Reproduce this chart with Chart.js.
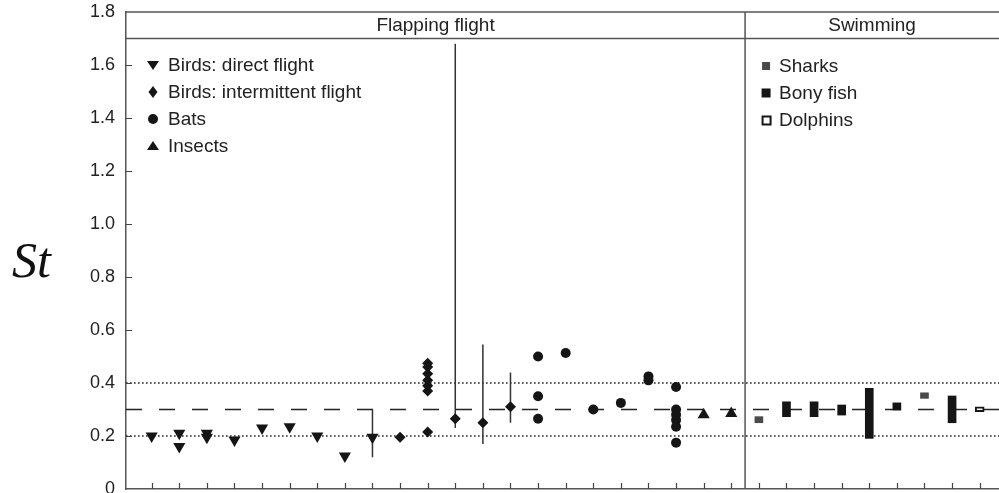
<!DOCTYPE html>
<html>
<head>
<meta charset="utf-8">
<script src="https://cdn.jsdelivr.net/npm/chart.js@4"></script>
<style>
  html, body { margin: 0; padding: 0; background: #fff; overflow: hidden; }
</style>
</head>
<body>
<canvas id="stChart" width="999" height="493"></canvas>
<script>
// species index along the x axis (0..21 flapping flight, 22..30 swimming)
var directX = [0, 1, 1, 2, 2, 3, 4, 5, 6, 7, 8];
var directY = [0.20, 0.21, 0.16, 0.21, 0.195, 0.185, 0.23, 0.235, 0.20, 0.125, 0.195];

var intermX = [9, 10, 10, 10, 10, 10, 10, 10, 11, 12, 13];
var intermY = [0.195, 0.475, 0.46, 0.435, 0.41, 0.39, 0.37, 0.215, 0.265, 0.25, 0.31];

var batsX = [14, 14, 14, 15, 16, 17, 18, 18, 19, 19, 19, 19, 19, 19];
var batsY = [0.50, 0.35, 0.265, 0.513, 0.30, 0.325, 0.425, 0.41, 0.385, 0.30, 0.28, 0.26, 0.235, 0.175];

var insectsX = [20, 21];
var insectsY = [0.28, 0.285];

// vertical range lines
var errX = [8, 11, 12, 13];
var errLo = [0.12, 0.23, 0.17, 0.25];
var errHi = [0.30, 1.68, 0.545, 0.44];

// swimming ranges (low, high)
var sharkX = [22, 28];
var sharkLo = [0.25, 0.342];
var sharkHi = [0.273, 0.363];

var fishX = [23, 24, 25, 26, 27, 29];
var fishLo = [0.273, 0.273, 0.279, 0.191, 0.298, 0.25];
var fishHi = [0.329, 0.329, 0.317, 0.38, 0.325, 0.351];

var dolphinX = [30];
var dolphinLo = [0.292];
var dolphinHi = [0.31];

var yTicks = [0, 0.2, 0.4, 0.6, 0.8, 1.0, 1.2, 1.4, 1.6, 1.8];
var dottedY = [0.2, 0.4];
var dashedY = 0.3;
var xMin = -0.93, xMax = 30.7;
var dividerX = 21.5;
var bandY = 1.7;

var flightLegend = ['Birds: direct flight', 'Birds: intermittent flight', 'Bats', 'Insects'];
var swimLegend = ['Sharks', 'Bony fish', 'Dolphins'];

function pts(xs, ys) {
  return xs.map(function (x, i) { return { x: x, y: ys[i] }; });
}
function ranges(xs, lo, hi) {
  return xs.map(function (x, i) { return { x: x, y: [lo[i], hi[i]] }; });
}
function segs(xs, lo, hi) {
  var out = [];
  xs.forEach(function (x, i) {
    out.push({ x: x, y: lo[i] }, { x: x, y: hi[i] }, { x: x, y: null });
  });
  return out;
}
function hline(y) {
  return [{ x: xMin, y: y }, { x: xMax, y: y }];
}

var ink = '#151515';
var font = '"Liberation Sans", Arial, sans-serif';

var data = {
  datasets: [
    { type: 'scatter', data: pts(directX, directY), pointStyle: 'triangle', rotation: 180, pointRadius: 7,
      backgroundColor: ink, borderColor: ink, borderWidth: 0 },
    { type: 'scatter', data: pts(intermX, intermY), pointStyle: 'rectRot', pointRadius: 5.5,
      backgroundColor: ink, borderColor: ink, borderWidth: 0 },
    { type: 'scatter', data: pts(batsX, batsY), pointStyle: 'circle', pointRadius: 5,
      backgroundColor: ink, borderColor: ink, borderWidth: 0 },
    { type: 'scatter', data: pts(insectsX, insectsY), pointStyle: 'triangle', pointRadius: 7,
      backgroundColor: ink, borderColor: ink, borderWidth: 0 },
    { type: 'bar', data: ranges(sharkX, sharkLo, sharkHi), backgroundColor: '#4a4a4a',
      barThickness: 8, grouped: false },
    { type: 'bar', data: ranges(fishX, fishLo, fishHi), backgroundColor: ink,
      barThickness: 8, grouped: false },
    { type: 'bar', data: ranges(dolphinX, dolphinLo, dolphinHi), backgroundColor: '#fff',
      borderColor: ink, borderWidth: 2, borderSkipped: false, barThickness: 9, grouped: false },
    { type: 'line', data: segs(errX, errLo, errHi), borderColor: '#333', borderWidth: 1.5,
      pointRadius: 0, spanGaps: false, order: 5 },
    { type: 'line', data: hline(dottedY[0]), borderColor: '#222', borderWidth: 1.6,
      borderDash: [1.6, 2.4], pointRadius: 0, order: 10 },
    { type: 'line', data: hline(dottedY[1]), borderColor: '#222', borderWidth: 1.6,
      borderDash: [1.6, 2.4], pointRadius: 0, order: 10 },
    { type: 'line', data: hline(dashedY), borderColor: '#222', borderWidth: 1.5,
      borderDash: [16, 17], pointRadius: 0, order: 10 }
  ]
};

// frame, header band, inner ticks, legends and the St label
var decorations = {
  id: 'decorations',
  afterDraw: function (chart) {
    var c = chart.ctx, a = chart.chartArea;
    var xs = chart.scales.x, ys = chart.scales.y;
    c.save();
    c.strokeStyle = '#555';
    c.lineWidth = 1.5;
    c.beginPath();
    c.moveTo(a.left, ys.getPixelForValue(1.8)); c.lineTo(a.right, ys.getPixelForValue(1.8));
    c.moveTo(a.left, ys.getPixelForValue(bandY)); c.lineTo(a.right, ys.getPixelForValue(bandY));
    var dx = xs.getPixelForValue(dividerX);
    c.moveTo(dx, a.top); c.lineTo(dx, a.bottom);
    c.stroke();

    c.strokeStyle = '#444';
    c.lineWidth = 1.2;
    c.beginPath();
    for (var i = 0; i <= 30; i++) {
      var px = Math.round(xs.getPixelForValue(i)) + 0.5;
      c.moveTo(px, a.bottom); c.lineTo(px, a.bottom - 6);
    }
    yTicks.slice(1, -1).forEach(function (v) {
      var py = Math.round(ys.getPixelForValue(v)) + 0.5;
      c.moveTo(a.left, py); c.lineTo(a.left + 6, py);
    });
    c.stroke();

    var headY = (ys.getPixelForValue(1.8) + ys.getPixelForValue(bandY)) / 2 + 1;
    c.fillStyle = '#222';
    c.font = '19px ' + font;
    c.textAlign = 'center';
    c.textBaseline = 'middle';
    c.fillText('Flapping flight', (a.left + dx) / 2, headY);
    c.fillText('Swimming', (dx + a.right) / 2, headY);

    // legend: flapping flight
    c.textAlign = 'left';
    var lx = a.left + 27, ly = a.top + 53, step = 27;
    flightLegend.forEach(function (txt, k) {
      var y = ly + k * step;
      c.fillStyle = ink;
      c.beginPath();
      if (k === 0) { c.moveTo(lx - 6, y - 4); c.lineTo(lx + 6, y - 4); c.lineTo(lx, y + 5); }
      else if (k === 1) { c.moveTo(lx, y - 6); c.lineTo(lx + 4.5, y); c.lineTo(lx, y + 6); c.lineTo(lx - 4.5, y); }
      else if (k === 2) { c.arc(lx, y, 5, 0, Math.PI * 2); }
      else { c.moveTo(lx - 6, y + 4); c.lineTo(lx + 6, y + 4); c.lineTo(lx, y - 5); }
      c.closePath();
      c.fill();
      c.fillStyle = '#222';
      c.fillText(txt, lx + 15, y + 1);
    });

    // legend: swimming
    var sx = dx + 21, sy = a.top + 54;
    swimLegend.forEach(function (txt, k) {
      var y = sy + k * step;
      if (k === 0) { c.fillStyle = '#4a4a4a'; c.fillRect(sx - 4, y - 4, 8, 8); }
      else if (k === 1) { c.fillStyle = ink; c.fillRect(sx - 4.5, y - 4.5, 9, 9); }
      else { c.strokeStyle = ink; c.lineWidth = 2; c.strokeRect(sx - 3.5, y - 3.5, 8, 8); }
      c.fillStyle = '#222';
      c.fillText(txt, sx + 13, y + 1);
    });

    // axis title
    c.fillStyle = '#111';
    c.font = 'italic 50px "Liberation Serif", "Times New Roman", serif';
    c.textAlign = 'left';
    c.textBaseline = 'alphabetic';
    c.fillText('St', 12, 277);
    c.restore();
  }
};

var config = {
  type: 'scatter',
  data: data,
  options: {
    responsive: false,
    animation: false,
    layout: { autoPadding: false, padding: { top: 12, left: 0, right: 0, bottom: 0 } },
    plugins: { legend: { display: false }, tooltip: { enabled: false } },
    scales: {
      x: {
        type: 'linear', min: xMin, max: xMax, offset: false,
        grid: { display: false, drawTicks: false, offset: false },
        ticks: { display: false },
        border: { display: true, color: '#555', width: 1.5 },
        afterFit: function (s) { s.height = 4; s.paddingLeft = 0; s.paddingRight = 0; }
      },
      y: {
        min: 0, max: 1.8,
        afterBuildTicks: function (s) { s.ticks = yTicks.map(function (v) { return { value: v }; }); },
        ticks: {
          padding: 11,
          color: '#222',
          font: { family: font, size: 18 },
          callback: function (v) { return v === 0 ? '0' : Number(v).toFixed(1); }
        },
        grid: { display: false, drawTicks: false },
        border: { display: true, color: '#555', width: 1.5 },
        afterFit: function (s) { s.width = 126; s.paddingTop = 0; s.paddingBottom = 0; }
      }
    }
  },
  plugins: [decorations]
};

var stChart = new Chart(document.getElementById('stChart').getContext('2d'), config);
</script>
</body>
</html>
